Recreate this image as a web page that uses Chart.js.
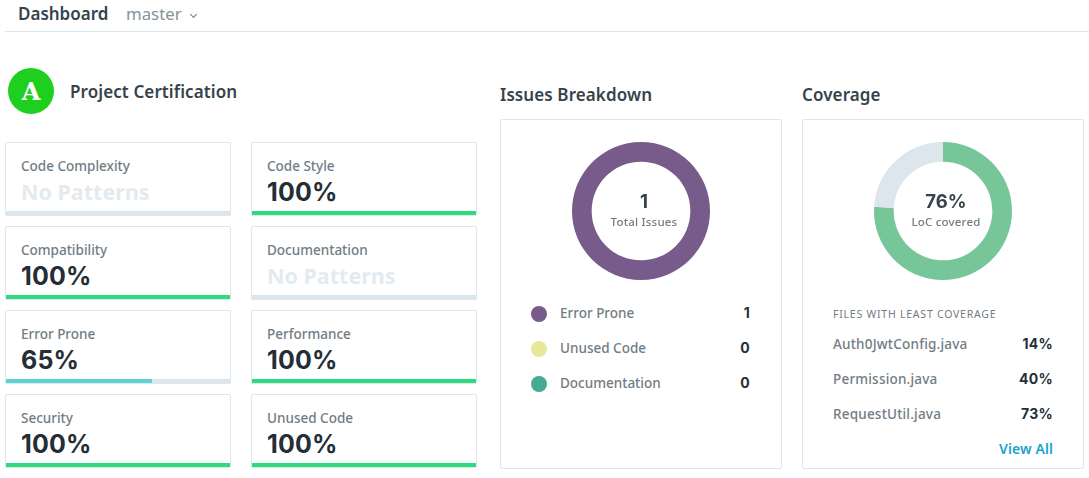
<!DOCTYPE html>
<html>
<head>
<meta charset="utf-8">
<title>Dashboard</title>
<script src="https://cdn.jsdelivr.net/npm/chart.js@4"></script>
<style>
  html, body { margin: 0; padding: 0; background: #fff; }
  body { width: 1089px; height: 478px; position: relative; overflow: hidden; font-family: "Noto Sans", sans-serif; color: #2e3a42; }
  .t { position: absolute; white-space: nowrap; line-height: 20px; height: 20px; }
  .box { position: absolute; box-sizing: border-box; border: 1px solid #dde7ee; border-radius: 2px; background: #fff; }
  .card { width: 226px; height: 74px; }
  .card canvas { position: absolute; left: 0; bottom: 0; background: #dbe6ec; }
  .card .name { left: 15px; top: 13px; font-size: 13.5px; font-weight: 500; color: #717c84; }
  .card .val { left: 15px; top: 39px; font-family: Inter, sans-serif; font-size: 25px; font-weight: 700; color: #252e36; letter-spacing: .2px; }
  .card .val.none { font-family: "Noto Sans", sans-serif; font-size: 21.5px; font-weight: 700; color: #e3ebf0; letter-spacing: 0; }
  h2 { position: absolute; margin: 0; white-space: nowrap; font-size: 17px; font-weight: 600; line-height: 20px; color: #36434b; letter-spacing: .1px; }
  .grey { font-size: 13.5px; font-weight: 500; color: #717c84; }
  .num { font-family: Inter, sans-serif; font-size: 14px; font-weight: 700; color: #252e36; letter-spacing: .3px; text-align: right; width: 50px; }
  .dot { position: absolute; width: 16px; height: 16px; border-radius: 50%; }
  .center { text-align: center; width: 120px; }
  canvas.donut { position: absolute; }
</style>
</head>
<body>
<div class="t" style="left:18px;top:4px;font-size:17px;font-weight:600;color:#36434b">Dashboard</div>
<div class="t" style="left:126px;top:4px;font-size:16.8px;color:#87929a">master</div>
<div style="position:absolute;left:191px;top:12px;width:4px;height:4px;border-right:1.4px solid #6f7b83;border-bottom:1.4px solid #6f7b83;transform:rotate(45deg)"></div>
<div style="position:absolute;left:5px;top:31px;width:1084px;height:1px;background:#dde7ee"></div>

<div style="position:absolute;left:8px;top:68px;width:46px;height:46px;border-radius:50%;background:#1fcf1f;color:#fff;font:bold 24px/47px 'DejaVu Serif',serif;text-align:center">A</div>
<h2 style="left:70px;top:82px">Project Certification</h2>
<h2 style="left:500px;top:85px">Issues Breakdown</h2>
<h2 style="left:802px;top:85px">Coverage</h2>

<div id="cards"></div>

<div class="box" style="left:500px;top:119px;width:282px;height:350px"></div>
<div class="box" style="left:802px;top:119px;width:282px;height:350px"></div>

<canvas class="donut" id="issuesDonut" width="140" height="140" style="left:571px;top:141px"></canvas>
<canvas class="donut" id="coverageDonut" width="140" height="140" style="left:873px;top:141px"></canvas>

<div class="t center" style="left:584px;top:191px;font-family:Inter,sans-serif;font-size:18.5px;font-weight:700;color:#36434b">1</div>
<div class="t center" style="left:584px;top:212px;font-size:11.5px;font-weight:500;color:#717c84;letter-spacing:.2px">Total Issues</div>
<div class="t center" style="left:886px;top:191px;font-family:Inter,sans-serif;font-size:18.5px;font-weight:700;color:#36434b">76%</div>
<div class="t center" style="left:886px;top:212px;font-size:11.5px;font-weight:500;color:#717c84;letter-spacing:.2px">LoC covered</div>

<div id="issueLegend"></div>
<div class="t" style="left:833px;top:304px;font-size:10.5px;color:#717c84;letter-spacing:.77px">FILES WITH LEAST COVERAGE</div>
<div id="fileList"></div>
<div class="t" style="left:999px;top:439px;font-size:14px;font-weight:600;color:#1aa3cc;letter-spacing:.1px">View All</div>

<script>
// certification cards, null means no patterns
var cardNames = ["Code Complexity", "Code Style", "Compatibility", "Documentation", "Error Prone", "Performance", "Security", "Unused Code"];
var cardValues = [null, 100, 100, null, 65, 100, 100, 100];

var issueNames = ["Error Prone", "Unused Code", "Documentation"];
var issueCounts = [1, 0, 0];
var issueColors = ["#775b8a", "#eae79b", "#47aa96"];

var coverageNames = ["Covered", "Not covered"];
var coverageValues = [76, 24];
var coverageColors = ["#76c69a", "#dce6ec"];

var fileNames = ["Auth0JwtConfig.java", "Permission.java", "RequestUtil.java"];
var fileCoverage = [14, 40, 73];

Chart.defaults.animation = false;
Chart.defaults.responsive = false;
Chart.defaults.plugins.legend.display = false;
Chart.defaults.plugins.tooltip.enabled = false;

function addText(parent, cls, style, text) {
  var el = document.createElement("div");
  el.className = cls;
  el.style.cssText = style;
  el.textContent = text;
  parent.appendChild(el);
  return el;
}

function barColor(v) {
  return v === 100 ? "#2fdb7f" : "#5bd4ce";
}

var cards = document.getElementById("cards");
cardNames.forEach(function(name, i) {
  var left = i % 2 === 0 ? 5 : 251;
  var top = 142 + 84 * Math.floor(i / 2);
  var card = addText(cards, "box card", "left:" + left + "px;top:" + top + "px", "");
  addText(card, "t name", "", name);
  var v = cardValues[i];
  addText(card, "t val" + (v === null ? " none" : ""), "", v === null ? "No Patterns" : v + "%");

  var c = document.createElement("canvas");
  c.width = 224;
  c.height = 4;
  card.appendChild(c);
  new Chart(c, {
    type: "bar",
    data: {
      labels: [name],
      datasets: [{ data: [v], backgroundColor: barColor(v), barPercentage: 1, categoryPercentage: 1 }]
    },
    options: {
      indexAxis: "y",
      layout: { padding: 0 },
      scales: {
        x: { display: false, min: 0, max: 100 },
        y: { display: false }
      }
    }
  });
});

function donut(id, labels, values, colors) {
  new Chart(document.getElementById(id), {
    type: "doughnut",
    data: {
      labels: labels,
      datasets: [{ data: values, backgroundColor: colors, borderWidth: 0 }]
    },
    options: { cutout: "71.5%", layout: { padding: 1 } }
  });
}
donut("issuesDonut", issueNames, issueCounts, issueColors);
donut("coverageDonut", coverageNames, coverageValues, coverageColors);

var legend = document.getElementById("issueLegend");
issueNames.forEach(function(name, i) {
  var y = 303 + 35 * i;
  addText(legend, "dot", "left:531px;top:" + (y + 3) + "px;background:" + issueColors[i], "");
  addText(legend, "t grey", "left:560px;top:" + y + "px", name);
  addText(legend, "t num", "left:700px;top:" + y + "px", issueCounts[i]);
});

var files = document.getElementById("fileList");
fileNames.forEach(function(name, i) {
  var y = 334 + 35 * i;
  addText(files, "t grey", "left:833px;top:" + y + "px;letter-spacing:.2px", name);
  addText(files, "t num", "left:1003px;top:" + y + "px", fileCoverage[i] + "%");
});
</script>
</body>
</html>
